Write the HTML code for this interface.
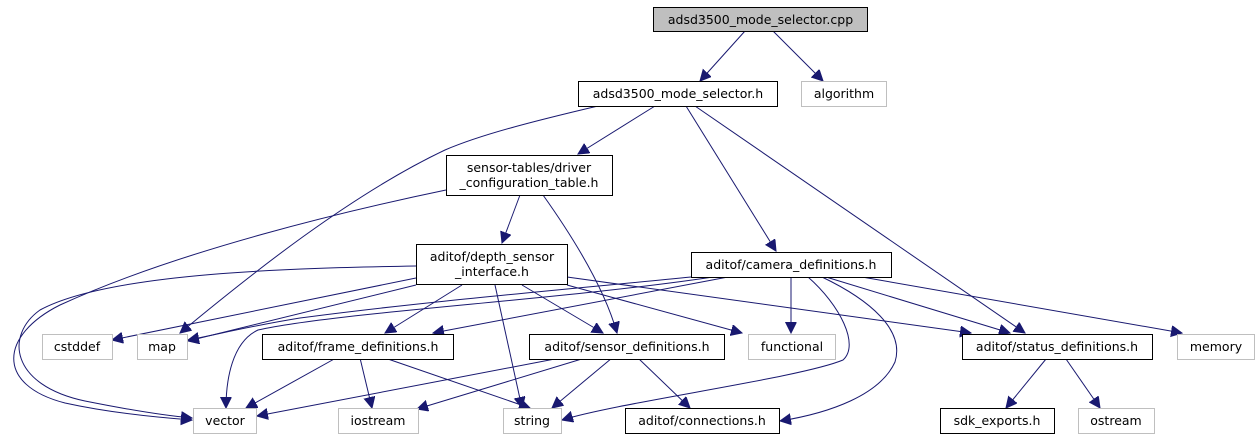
<!DOCTYPE html>
<html><head><meta charset="utf-8"><style>
html,body{margin:0;padding:0;background:#fff;}
svg{display:block;}
text{font-family:"DejaVu Sans","Liberation Sans",sans-serif;font-size:12.5px;fill:#000;}
.n{fill:#fff;stroke:#000;stroke-width:1;}
.g{fill:#fff;stroke:#bfbfbf;stroke-width:1;}
.e{fill:none;stroke:#191970;stroke-width:1;}
</style></head><body>
<svg width="1260" height="440" viewBox="0 0 1260 440" xmlns="http://www.w3.org/2000/svg">
<defs><marker id="a" markerUnits="userSpaceOnUse" markerWidth="14" markerHeight="12" refX="11" refY="5.5" orient="auto"><path d="M0,0 L11,5.5 L0,11 z" fill="#191970" stroke="#191970"/></marker></defs>
<g marker-end="url(#a)">
<path class="e" d="M745,31 L700,81"/>
<path class="e" d="M773,31 L823,81"/>
<path class="e" d="M655,106 L578,154"/>
<path class="e" d="M598,106 C530,122 480,135 445,150 C350,195 250,275 180,333"/>
<path class="e" d="M686,106 L776,251"/>
<path class="e" d="M695,106 L1025,333"/>
<path class="e" d="M520,195 L502,243"/>
<path class="e" d="M543,195 C575,240 605,290 617,333"/>
<path class="e" d="M446,190 C350,210 180,250 60,305 C0,335 -5,385 65,403 C115,414 165,418 192,420"/>
<path class="e" d="M416,266 C300,268 110,272 40,310 C5,335 10,385 85,401 C135,411 170,416 192,418"/>
<path class="e" d="M416,278 L112,340"/>
<path class="e" d="M416,285 L188,341"/>
<path class="e" d="M462,285 L385,333"/>
<path class="e" d="M495,285 L522,408"/>
<path class="e" d="M522,285 L603,333"/>
<path class="e" d="M567,285 L742,333"/>
<path class="e" d="M567,277 L971,333"/>
<path class="e" d="M691,277 C560,290 420,302 300,318 C250,326 215,335 188,340"/>
<path class="e" d="M713,277 C560,300 340,312 258,330 C232,342 226,380 226,408"/>
<path class="e" d="M728,277 L433,333"/>
<path class="e" d="M791,277 L791,333"/>
<path class="e" d="M808,277 C840,305 860,345 843,360 C800,378 620,402 562,420"/>
<path class="e" d="M822,277 C870,300 905,330 895,362 C880,395 830,413 780,421"/>
<path class="e" d="M826,277 L1010,333"/>
<path class="e" d="M862,277 L1182,333"/>
<path class="e" d="M336,358 L246,408"/>
<path class="e" d="M360,358 L372,408"/>
<path class="e" d="M385,358 L530,408"/>
<path class="e" d="M560,358 L257,416"/>
<path class="e" d="M585,358 L417,409"/>
<path class="e" d="M612,358 L552,408"/>
<path class="e" d="M638,358 L690,408"/>
<path class="e" d="M1046,359 L1006,408"/>
<path class="e" d="M1066,359 L1100,408"/>
</g>
<rect x="653.5" y="7.5" width="214" height="24" fill="#bfbfbf" stroke="#000"/><text x="760.5" y="24" text-anchor="middle">adsd3500_mode_selector.cpp</text>
<rect class="n" x="578.5" y="81.5" width="199" height="25"/><text x="678" y="98" text-anchor="middle">adsd3500_mode_selector.h</text>
<rect class="g" x="801.5" y="81.5" width="85" height="25"/><text x="844" y="98" text-anchor="middle">algorithm</text>
<rect class="n" x="446.5" y="155.5" width="166" height="40"/><text x="529" y="172" text-anchor="middle">sensor-tables/driver</text><text x="529" y="187" text-anchor="middle">_configuration_table.h</text>
<rect class="n" x="416.5" y="244.5" width="151" height="40"/><text x="492" y="261" text-anchor="middle">aditof/depth_sensor</text><text x="492" y="276" text-anchor="middle">_interface.h</text>
<rect class="n" x="691.5" y="252.5" width="200" height="25"/><text x="791" y="269" text-anchor="middle">aditof/camera_definitions.h</text>
<rect class="g" x="42.5" y="334.5" width="70" height="25"/><text x="77" y="351" text-anchor="middle">cstddef</text>
<rect class="g" x="137.5" y="334.5" width="50" height="25"/><text x="162" y="351" text-anchor="middle">map</text>
<rect class="n" x="262.5" y="334.5" width="191" height="25"/><text x="358" y="351" text-anchor="middle">aditof/frame_definitions.h</text>
<rect class="n" x="529.5" y="334.5" width="195" height="25"/><text x="627" y="351" text-anchor="middle">aditof/sensor_definitions.h</text>
<rect class="g" x="748.5" y="334.5" width="87" height="25"/><text x="792" y="351" text-anchor="middle">functional</text>
<rect class="n" x="962.5" y="334.5" width="190" height="25"/><text x="1057" y="351" text-anchor="middle">aditof/status_definitions.h</text>
<rect class="g" x="1177.5" y="334.5" width="77" height="25"/><text x="1216" y="351" text-anchor="middle">memory</text>
<rect class="g" x="193.5" y="408.5" width="63" height="25"/><text x="225" y="425" text-anchor="middle">vector</text>
<rect class="g" x="338.5" y="408.5" width="80" height="25"/><text x="378" y="425" text-anchor="middle">iostream</text>
<rect class="g" x="503.5" y="408.5" width="58" height="25"/><text x="532" y="425" text-anchor="middle">string</text>
<rect class="n" x="625.5" y="408.5" width="154" height="25"/><text x="702" y="425" text-anchor="middle">aditof/connections.h</text>
<rect class="n" x="940.5" y="408.5" width="114" height="25"/><text x="997" y="425" text-anchor="middle">sdk_exports.h</text>
<rect class="g" x="1078.5" y="408.5" width="76" height="25"/><text x="1116" y="425" text-anchor="middle">ostream</text>
</svg>
</body></html>
